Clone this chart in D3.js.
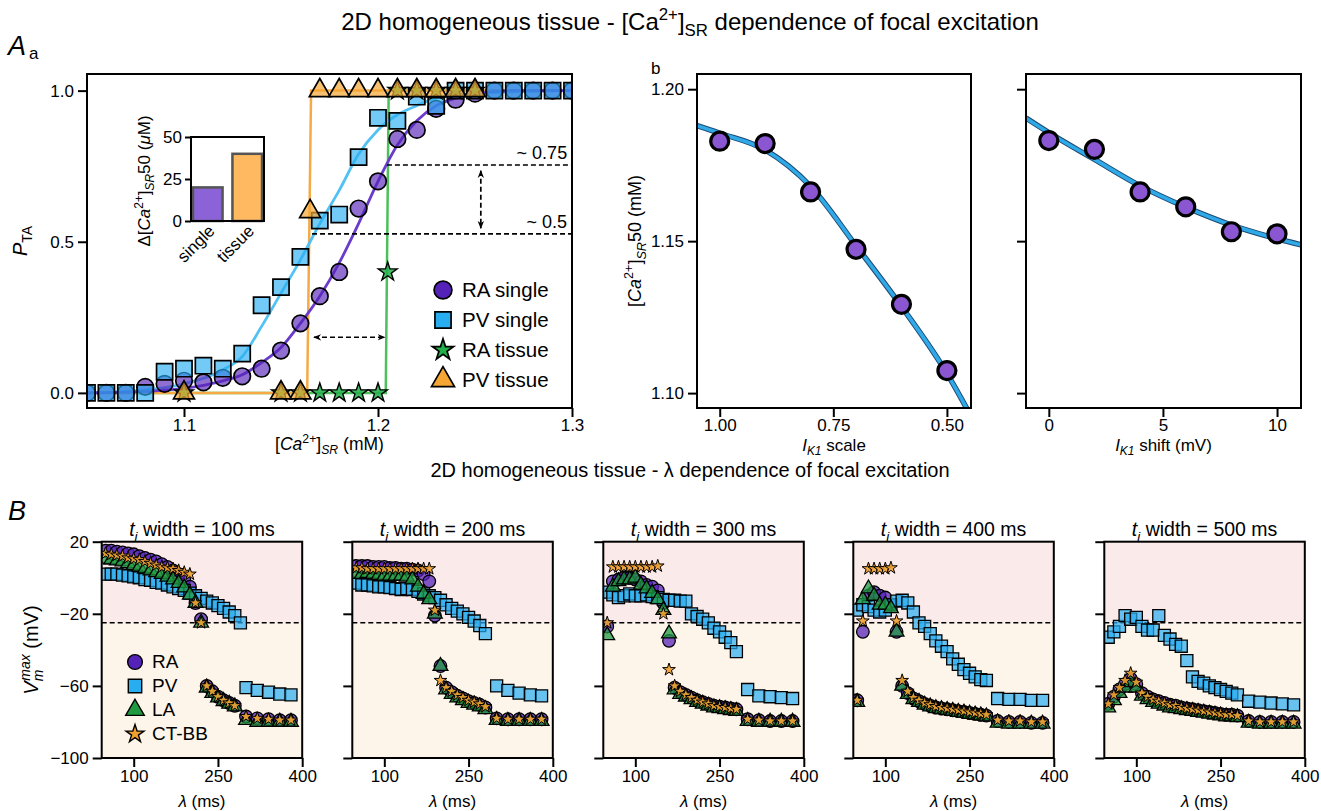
<!DOCTYPE html>
<html>
<head>
<meta charset="utf-8">
<script src="https://cdn.jsdelivr.net/npm/d3@7"></script>
<style>
  body { margin: 0; background: #fff; }
  svg { font-family: "Liberation Sans", Arial, sans-serif; }
  .axis path { display: none; }
  .axis line { stroke: #000; stroke-width: 2; }
  .axis text { font-size: 17px; fill: #000; font-family: "Liberation Sans", Arial, sans-serif; }
</style>
</head>
<body>
<div id="chart"></div>
<script>
// ---------- A a : probability of triggered activity vs [Ca2+]SR
const caSingle = [1.05, 1.06, 1.07, 1.08, 1.09, 1.10, 1.11, 1.12, 1.13, 1.14, 1.15, 1.16, 1.17,
  1.18, 1.19, 1.20, 1.21, 1.22, 1.23, 1.24, 1.25, 1.26, 1.27, 1.28, 1.29, 1.30];
const raSingle = [0, 0, 0, 0.02, 0.03, 0.04, 0.035, 0.05, 0.055, 0.08, 0.14, 0.23, 0.32,
  0.40, 0.61, 0.70, 0.84, 0.87, 0.94, 0.97, 0.99, 1, 1, 1, 1, 1];
const pvSingle = [0, 0, 0, 0, 0.07, 0.08, 0.09, 0.08, 0.13, 0.29, 0.35, 0.45, 0.57,
  0.59, 0.78, 0.91, 0.90, 0.98, 0.95, 1, 1, 1, 1, 1, 1, 1];
const raTissueX = [1.10, 1.15, 1.16, 1.17, 1.18, 1.19, 1.20, 1.205, 1.21, 1.22, 1.23, 1.24, 1.25];
const raTissue = [0, 0, 0, 0, 0, 0, 0, 0.4, 1, 1, 1, 1, 1];
const pvTissueX = [1.10, 1.15, 1.16, 1.165, 1.17, 1.18, 1.19, 1.20, 1.21, 1.22, 1.23, 1.24, 1.25];
const pvTissue = [0, 0, 0, 0.6, 1, 1, 1, 1, 1, 1, 1, 1, 1];
// fitted curves
const raFitX = [1.05, 1.08, 1.10, 1.12, 1.13, 1.14, 1.15, 1.16, 1.17, 1.18, 1.19, 1.20, 1.21, 1.22, 1.23, 1.24, 1.25, 1.27, 1.30];
const raFit = [0, 0.005, 0.015, 0.04, 0.06, 0.10, 0.15, 0.23, 0.32, 0.43, 0.56, 0.70, 0.82, 0.90, 0.95, 0.975, 0.99, 1, 1];
const pvFitX = [1.05, 1.08, 1.10, 1.12, 1.13, 1.14, 1.15, 1.16, 1.17, 1.18, 1.19, 1.20, 1.21, 1.22, 1.23, 1.25, 1.30];
const pvFit = [0, 0.01, 0.03, 0.076, 0.12, 0.22, 0.33, 0.44, 0.56, 0.67, 0.79, 0.87, 0.92, 0.95, 0.975, 0.99, 1];
const pvStepX = [1.05, 1.1635, 1.1655, 1.30];
const pvStep = [0, 0, 1, 1];
const raStepX = [1.05, 1.2040, 1.2055, 1.30];
const raStep = [0, 0, 1, 1];
const aaTicksX = [1.1, 1.2, 1.3];
const aaTicksY = [0, 0.5, 1];
// inset bars
const insetCats = ["single", "tissue"];
const insetVals = [20, 40];
const insetTicks = [0, 25, 50];

// ---------- A b : [Ca2+]SR50 vs IK1
const ik1Scale = [1.0, 0.9, 0.8, 0.7, 0.6, 0.5];
const ca50Scale = [1.1829, 1.1821, 1.1662, 1.1473, 1.1292, 1.1074];
const scaleFitX = [1.05, 1.0, 0.9, 0.8, 0.7, 0.6, 0.5, 0.44];
const scaleFit = [1.188, 1.1855, 1.1800, 1.1680, 1.1485, 1.1285, 1.1065, 1.0905];
const ik1Shift = [0, 2, 4, 6, 8, 10];
const ca50Shift = [1.1831, 1.1802, 1.1662, 1.1613, 1.1531, 1.1524];
const shiftFitX = [-1, 0, 2, 4, 6, 8, 10, 11.05];
const shiftFit = [1.1905, 1.1857, 1.1769, 1.1682, 1.1612, 1.1553, 1.1508, 1.1488];
const abTicksY = [1.10, 1.15, 1.20];
const scaleTicks = [1.0, 0.75, 0.5];
const shiftTicks = [0, 5, 10];

// ---------- B : Vm max vs lambda, one panel per ti width
const lam = [50, 60, 70, 80, 90, 100, 110, 120, 130, 140, 150, 160, 170, 180, 190, 200, 210,
  220, 230, 240, 250, 260, 270, 280, 290, 300, 320, 340, 360, 380];
const widths = [100, 200, 300, 400, 500];
const raB = [
  [15, 15, 14.5, 14, 13.5, 13, 12, 11, 10, 9, 7.5, 6, 4, 2, -1, -5, -14, -23, -60, -63, -66, -68, -69.5, -71, null, -77, -78, -78.5, -79, -79],
  [6.5, 6.5, 6.5, 6, 6, 6, 5.5, 5.5, 5, 5, 4.5, 4, 2, -2, -21, -49, -61, -63.5, -65.5, -67, -68.5, -69.5, -70.5, -72, null, -78, -78.5, -78.5, -78.5, -78.5],
  [-27, -2, -1, 0, 0, -1, -2, -4, -5, -7, -14, -35, -61, -63.5, -65, -66.5, -68, -69, -70, -71, -71.5, -72, -72.5, -73, null, -78.5, -79, -79.5, -79.5, -79.5],
  [-68, -30, -10, -8, -10, -11, -15, -30, -60, -64, -67, -68.5, -70, -71, -72, -72.5, -73, -73.5, -74, -74.5, -75, -75.5, -76, -76.5, null, -79.5, -80, -80, -80.5, -80.5],
  [-70, -66, -62, -59, -56, -59, -64, -66, -67.5, -68.5, -69.5, -70.5, -71, -72, -72.5, -73, -73.5, -74, -74.5, -75, -75.5, -76, -76, -76.5, null, -79.5, -80, -80, -80, -80]
];
const pvB = [
  [2, 2, 2, 1.5, 1, 0.5, 0, -1, -1.5, -2.5, -3, -4, -5, -6, -7, -8.5, -10, -11.5, -13, -14, -15.5, -17, -19, -21, -25, -61, -62.5, -63.5, -64.5, -65],
  [-3, -4, -4, -4.5, -5, -5, -5.5, -6, -6.5, -6, -6.5, -7.5, -9, -10, -11, -12.5, -15, -17, -18.5, -20, -22, -24, -26.5, -31, null, -60, -62.5, -64, -65, -65.5],
  [-8, -9.5, -11, -10, -9, -10, -10, -9.5, -10.5, -11, -12, -12.5, -12.5, -13, -13, -20, -21.5, -23, -25, -28, -30, -33, -36, -41, null, -62, -65.5, -66, -66.5, -67],
  [-18, -15, -16, -18, -19, -18, -15, -13, -12.5, -14, -19, -25, -27, -31, -35, -38, -41, -45, -48, -51, -53, -55, -56.5, -57, null, -67, -67.5, -67.5, -68, -68],
  [-33, -30, -27, -21, -23, -22, -27, -29, -29, -21, -32, -34, -37, -38, -46, -55, -57.5, -58.5, -60, -61, -62, -63, -64, -65, null, -68.5, -69, -69.5, -70, -70.5]
];
const laB = [
  [10.5, 10, 9.5, 9, 8, 7, 6, 5, 4, 3, 2, 0.5, -1, -3, -5.5, -9.5, -14, -25, -61, -64, -66.5, -68.5, -70, -71.5, null, -79, -80, -80, -80, -80],
  [2, 2, 2.5, 2, 1.5, 1, 1, 1, 1, 0.5, -1, -5, -9, -12, -20, -49, -62, -64.5, -66.5, -68, -69.5, -70.5, -71.5, -73, null, -79, -79.5, -79.5, -79.5, -79.5],
  [-32, -5, -2, -1, -1, 0, -4, -6, -8.5, -12, -18, -31, -62, -64.5, -66, -67.5, -69, -70, -71, -72, -72.5, -73, -73.5, -74, null, -79.5, -80, -80, -80, -80],
  [-69, -12, -6, -10, -15, -15, -17, -30, -60, -64.5, -67.5, -69, -70.5, -71.5, -72.5, -73, -73.5, -74, -74.5, -75, -75.5, -76, -76.5, -77, null, -80.5, -81, -81, -81, -81],
  [-72, -68, -64, -61, -58, -61, -65.5, -67.5, -69, -70, -71, -72, -72.5, -73, -73.5, -74, -74.5, -75, -75.5, -76, -76.5, -77, -77, -77.5, null, -80.5, -81, -81, -81, -81]
];
const ctB = [
  [13.5, 13, 12.5, 12, 11, 10.5, 10, 9, 8, 7, 6, 5.5, 5, 4, 3, 2, -14, -25, -60, -63, -66, -68, -69.5, -71, null, -77, -78, -78.5, -79, -79],
  [5.5, 5.5, 5, 5, 5, 5, 5, 5, 5, 5, 5, 5, 5, 5, -18, -57, -61, -63, -65, -66.5, -68, -69, -70, -71.5, null, -78, -78.5, -78.5, -78.5, -78.5],
  [-25, 6, 6, 6, 6, 6, 6, 6, 6, 6.5, -20, -51, -60, -63, -65, -66.5, -68, -69, -70, -71, -71.5, -72, -72.5, -73, null, -78.5, -79, -79.5, -79.5, -79.5],
  [-68, -24, 5, 5, 5, 5, 5.5, -24, -57, -63, -66.5, -68, -69.5, -70.5, -71.5, -72, -72.5, -73, -73.5, -74, -74.5, -75, -75.5, -76, null, -79, -79.5, -79.5, -80, -80],
  [-70, -65, -61, -57, -53, -58, -64, -66, -67.5, -68.5, -69.5, -70.5, -71, -72, -72.5, -73, -73.5, -74, -74.5, -75, -75.5, -76, -76, -76.5, null, -79.5, -80, -80, -80, -80]
];
const threshold = -25;
const bTicksY = [-100, -60, -20, 20];
const bTicksX = [100, 250, 400];

// colours
const cRA = "#5522b8", cPV = "#28adf1", cStar = "#22b04a", cTri = "#f5a633";
const cLA = "#1f9a40", cCT = "#f0a030";

const svg = d3.select("#chart").append("svg")
  .attr("width", 1321).attr("height", 811);

// text with italic / super / subscript pieces
function rich(t, parts, fs) {
  let cur = 0;
  parts.forEach(function(p) {
    const o = p[1] || {};
    const target = o.sup ? -0.42 * fs : o.sub ? 0.25 * fs : 0;
    const ts = t.append("tspan").text(p[0]).attr("dy", target - cur);
    if (o.dx) ts.attr("dx", o.dx);
    if (o.sup || o.sub) ts.attr("font-size", fs * 0.7);
    if (o.i) ts.attr("font-style", "italic");
    cur = target;
  });
  return t;
}
function label(x, y, fs, parts, rot) {
  const t = svg.append("text").attr("font-size", fs).attr("text-anchor", "middle");
  if (rot) t.attr("transform", "translate(" + x + "," + y + ") rotate(-90)");
  else t.attr("x", x).attr("y", y);
  return rich(t, parts, fs);
}
function sym(type, size) {
  return d3.symbol().type(type).size(size)();
}
function clip(id, x0, y0, w, h) {
  svg.append("clipPath").attr("id", id).append("rect")
    .attr("x", x0).attr("y", y0).attr("width", w).attr("height", h);
}
function markers(g, xs, ys, x, y, type, size, fill, op, sw) {
  g.append("g").selectAll("path")
    .data(xs.map(function(d, i) { return [d, ys[i]]; }).filter(function(d) { return d[1] != null; }))
    .enter().append("path")
    .attr("d", sym(type, size))
    .attr("transform", function(d) { return "translate(" + x(d[0]) + "," + y(d[1]) + ")"; })
    .attr("fill", fill).attr("fill-opacity", op)
    .attr("stroke", "#000").attr("stroke-width", sw);
}
function frame(x0, y0, w, h) {
  svg.append("rect").attr("x", x0).attr("y", y0).attr("width", w).attr("height", h)
    .attr("fill", "none").attr("stroke", "#000").attr("stroke-width", 2);
}

// defs for arrows
svg.append("defs").append("marker")
  .attr("id", "arr").attr("viewBox", "0 0 10 10").attr("refX", 9).attr("refY", 5)
  .attr("markerWidth", 8).attr("markerHeight", 8).attr("markerUnits", "userSpaceOnUse")
  .attr("orient", "auto-start-reverse")
  .append("path").attr("d", "M0,1 L10,5 L0,9 L3,5 z").attr("fill", "#000");

// ---------- titles and panel letters
label(690, 30, 24, [["2D homogeneous tissue - [Ca"], ["2+", {sup: true}], ["]"], ["SR", {sub: true}], [" dependence of focal excitation"]]);
label(690, 477, 20, [["2D homogeneous tissue - λ dependence of focal excitation"]]);
svg.append("text").attr("x", 8).attr("y", 55).attr("font-size", 27).attr("font-style", "italic").text("A");
svg.append("text").attr("x", 29).attr("y", 59).attr("font-size", 17).text("a");
svg.append("text").attr("x", 651).attr("y", 74).attr("font-size", 17).text("b");
svg.append("text").attr("x", 8).attr("y", 520).attr("font-size", 27).attr("font-style", "italic").text("B");

// ---------- panel A a
(function() {
  const L = 87, R = 572, T = 74, Bm = 408;
  const x = d3.scaleLinear().domain([1.05, 1.30]).range([L, R]);
  const y = d3.scaleLinear().domain([-0.05, 1.055]).range([Bm, T]);
  clip("clipAa", L, T, R - L, Bm - T);
  const g = svg.append("g").attr("clip-path", "url(#clipAa)");
  const line = d3.line().x(function(d) { return x(d[0]); }).y(function(d) { return y(d[1]); });
  const pts = function(xs, ys) { return xs.map(function(d, i) { return [d, ys[i]]; }); };

  g.append("path").attr("d", line.curve(d3.curveLinear)(pts(raStepX, raStep)))
    .attr("fill", "none").attr("stroke", "#4cc05a").attr("stroke-width", 2.5);
  g.append("path").attr("d", line.curve(d3.curveLinear)(pts(pvStepX, pvStep)))
    .attr("fill", "none").attr("stroke", "#f5aa45").attr("stroke-width", 2.5);
  g.append("path").attr("d", line.curve(d3.curveMonotoneX)(pts(pvFitX, pvFit)))
    .attr("fill", "none").attr("stroke", "#52c2f5").attr("stroke-width", 2.8);
  g.append("path").attr("d", line.curve(d3.curveMonotoneX)(pts(raFitX, raFit)))
    .attr("fill", "none").attr("stroke", "#6a3ccc").attr("stroke-width", 2.8);

  markers(g, caSingle, raSingle, x, y, d3.symbolCircle, 215, cRA, 0.65, 1.7);
  markers(g, caSingle, pvSingle, x, y, d3.symbolSquare, 260, cPV, 0.65, 1.7);
  markers(g, raTissueX, raTissue, x, y, d3.symbolStar, 110, cStar, 0.85, 1.4);
  markers(g, pvTissueX, pvTissue, x, y, d3.symbolTriangle, 190, cTri, 0.7, 1.7);

  // threshold annotations
  const dash = function(x1, y1, x2, y2) {
    return svg.append("line").attr("x1", x(x1)).attr("y1", y(y1)).attr("x2", x(x2)).attr("y2", y(y2))
      .attr("stroke", "#000").attr("stroke-width", 1.7).attr("stroke-dasharray", "5,3");
  };
  dash(1.2046, 0.754, 1.30, 0.754);
  dash(1.166, 0.526, 1.30, 0.526);
  dash(1.253, 0.735, 1.253, 0.545).attr("marker-start", "url(#arr)").attr("marker-end", "url(#arr)");
  dash(1.167, 0.184, 1.2035, 0.184).attr("marker-start", "url(#arr)").attr("marker-end", "url(#arr)");
  svg.append("text").attr("x", x(1.2975)).attr("y", y(0.754) - 6).attr("text-anchor", "end")
    .attr("font-size", 18).text("~ 0.75");
  svg.append("text").attr("x", x(1.2975)).attr("y", y(0.526) - 6).attr("text-anchor", "end")
    .attr("font-size", 18).text("~ 0.5");

  frame(L, T, R - L, Bm - T);
  svg.append("g").attr("class", "axis").attr("transform", "translate(" + L + ",0)")
    .call(d3.axisLeft(y).tickValues(aaTicksY).tickSize(9).tickPadding(4).tickFormat(d3.format(".1f")));
  svg.append("g").attr("class", "axis").attr("transform", "translate(0," + Bm + ")")
    .call(d3.axisBottom(x).tickValues(aaTicksX).tickSize(9).tickPadding(2).tickFormat(d3.format(".1f")));
  label(L + (R - L) / 2, 450, 17.5, [["["], ["Ca", {i: true}], ["2+", {sup: true}], ["]"], ["SR", {sub: true, i: true}], [" (mM)"]]);
  label(27, 241, 20, [["P", {i: true}], ["TA", {sub: true}]], true);

  // legend
  const leg = [["RA single", d3.symbolCircle, 250, cRA], ["PV single", d3.symbolSquare, 260, cPV],
    ["RA tissue", d3.symbolStar, 140, cStar], ["PV tissue", d3.symbolTriangle, 230, cTri]];
  leg.forEach(function(d, i) {
    const yy = 290 + i * 30;
    svg.append("path").attr("d", sym(d[1], d[2])).attr("transform", "translate(443," + yy + ")")
      .attr("fill", d[3]).attr("stroke", "#000").attr("stroke-width", 1.7);
    svg.append("text").attr("x", 462).attr("y", yy + 7).attr("font-size", 20.5).text(d[0]);
  });

  // inset bar chart
  const iL = 191, iR = 264, iT = 137, iB = 221;
  const xb = d3.scaleBand().domain(insetCats).range([iL, iR]).paddingInner(0.25).paddingOuter(0.05);
  const yb = d3.scaleLinear().domain([0, 50]).range([iB, iT]);
  svg.append("rect").attr("x", iL).attr("y", iT).attr("width", iR - iL).attr("height", iB - iT).attr("fill", "#fff");
  svg.append("g").selectAll("rect").data(insetCats).enter().append("rect")
    .attr("x", function(d) { return xb(d); })
    .attr("y", function(d, i) { return yb(insetVals[i]); })
    .attr("width", xb.bandwidth())
    .attr("height", function(d, i) { return yb(0) - yb(insetVals[i]); })
    .attr("fill", function(d, i) { return ["#8c62d8", "#ffb960"][i]; })
    .attr("stroke", "#555").attr("stroke-width", 2.5);
  frame(iL, iT, iR - iL, iB - iT);
  svg.append("g").attr("class", "axis").attr("transform", "translate(" + iL + ",0)")
    .call(d3.axisLeft(yb).tickValues(insetTicks).tickSize(6).tickPadding(3));
  insetCats.forEach(function(c) {
    svg.append("text").attr("text-anchor", "end").attr("font-size", 17)
      .attr("transform", "translate(" + (xb(c) + xb.bandwidth() / 2 + 8) + "," + (iB + 11) + ") rotate(-45)")
      .text(c);
  });
  label(150, 181, 17, [["Δ["], ["Ca", {i: true}], ["2+", {sup: true}], ["]"], ["SR", {sub: true, i: true}], ["50 ("], ["μ", {i: true}], ["M)"]], true);
})();

// ---------- panel A b
(function() {
  const T = 74, Bm = 408;
  const y = d3.scaleLinear().domain([1.0951, 1.205]).range([Bm, T]);
  const specs = [
    {L: 697, R: 971, dom: [1.05, 0.447], xs: ik1Scale, ys: ca50Scale, fx: scaleFitX, fy: scaleFit,
     ticks: scaleTicks, fmt: d3.format(".2f"), lab: " scale", yl: true},
    {L: 1026, R: 1301, dom: [-1.0, 11.05], xs: ik1Shift, ys: ca50Shift, fx: shiftFitX, fy: shiftFit,
     ticks: shiftTicks, fmt: d3.format("d"), lab: " shift (mV)", yl: false}
  ];
  specs.forEach(function(s, k) {
    const x = d3.scaleLinear().domain(s.dom).range([s.L, s.R]);
    clip("clipAb" + k, s.L, T, s.R - s.L, Bm - T);
    const g = svg.append("g").attr("clip-path", "url(#clipAb" + k + ")");
    const line = d3.line().curve(d3.curveMonotoneX)
      .x(function(d) { return x(d[0]); }).y(function(d) { return y(d[1]); });
    const pts = s.fx.map(function(d, i) { return [d, s.fy[i]]; });
    g.append("path").attr("d", line(pts)).attr("fill", "none").attr("stroke", "#1d4a72").attr("stroke-width", 5.5);
    g.append("path").attr("d", line(pts)).attr("fill", "none").attr("stroke", "#2fa9e8").attr("stroke-width", 3.6);
    g.append("g").selectAll("circle").data(s.xs).enter().append("circle")
      .attr("cx", function(d) { return x(d); })
      .attr("cy", function(d, i) { return y(s.ys[i]); })
      .attr("r", 9).attr("fill", "#8a56d2").attr("stroke", "#000").attr("stroke-width", 3.2);
    frame(s.L, T, s.R - s.L, Bm - T);
    svg.append("g").attr("class", "axis").attr("transform", "translate(" + s.L + ",0)")
      .call(d3.axisLeft(y).tickValues(abTicksY).tickSize(9).tickPadding(4)
        .tickFormat(s.yl ? d3.format(".2f") : ""));
    svg.append("g").attr("class", "axis").attr("transform", "translate(0," + Bm + ")")
      .call(d3.axisBottom(x).tickValues(s.ticks).tickSize(9).tickPadding(2).tickFormat(s.fmt));
    label((s.L + s.R) / 2, 451, 17, [["I", {i: true}], ["K1", {sub: true, i: true}], [s.lab]]);
  });
  label(641, 241, 18, [["["], ["Ca", {i: true}], ["2+", {sup: true}], ["]"], ["SR", {sub: true, i: true}], ["50 (mM)"]], true);
})();

// ---------- panel B
(function() {
  const lefts = [101.7, 352.3, 603.3, 853.3, 1104.3];
  const Wd = 200.5, T = 541.7, Bm = 758;
  const y = d3.scaleLinear().domain([-100, 20]).range([Bm, T]);
  lefts.forEach(function(L, k) {
    const x = d3.scaleLinear().domain([43, 400]).range([L, L + Wd]);
    svg.append("rect").attr("x", L).attr("y", y(20)).attr("width", Wd).attr("height", y(threshold) - y(20)).attr("fill", "#fbeaea");
    svg.append("rect").attr("x", L).attr("y", y(threshold)).attr("width", Wd).attr("height", y(-100) - y(threshold)).attr("fill", "#fdf5e9");
    svg.append("line").attr("x1", L).attr("x2", L + Wd).attr("y1", y(threshold)).attr("y2", y(threshold))
      .attr("stroke", "#000").attr("stroke-width", 1.6).attr("stroke-dasharray", "5,3");
    clip("clipB" + k, L, T, Wd, Bm - T);
    const g = svg.append("g").attr("clip-path", "url(#clipB" + k + ")");
    markers(g, lam, raB[k], x, y, d3.symbolCircle, 125, cRA, 0.75, 1.3);
    markers(g, lam, pvB[k], x, y, d3.symbolSquare, 145, cPV, 0.7, 1.3);
    markers(g, lam, laB[k], x, y, d3.symbolTriangle, 95, cLA, 0.75, 1.3);
    markers(g, lam, ctB[k], x, y, d3.symbolStar, 50, cCT, 0.9, 1.0);
    frame(L, T, Wd, Bm - T);
    svg.append("g").attr("class", "axis").attr("transform", "translate(" + L + ",0)")
      .call(d3.axisLeft(y).tickValues(bTicksY).tickSize(9).tickPadding(4).tickFormat(k === 0 ? d3.format("d") : ""));
    svg.append("g").attr("class", "axis").attr("transform", "translate(0," + Bm + ")")
      .call(d3.axisBottom(x).tickValues(bTicksX).tickSize(9).tickPadding(3).tickFormat(d3.format("d")));
    label(L + Wd / 2, 536, 19.5, [["t", {i: true}], ["i", {sub: true, i: true}], [" width = " + widths[k] + " ms"]]);
    label(L + Wd / 2, 807, 17, [["λ", {i: true}], [" (ms)"]]);
  });
  label(38, 650, 20, [["V", {i: true}], ["m", {sub: true, i: true}], ["max", {sup: true, i: true, dx: -11}], [" (mV)"]], true);

  const leg = [["RA", d3.symbolCircle, 170, cRA], ["PV", d3.symbolSquare, 180, cPV],
    ["LA", d3.symbolTriangle, 150, cLA], ["CT-BB", d3.symbolStar, 100, cCT]];
  leg.forEach(function(d, i) {
    const yy = 662 + i * 24;
    svg.append("path").attr("d", sym(d[1], d[2])).attr("transform", "translate(135," + yy + ")")
      .attr("fill", d[3]).attr("stroke", "#000").attr("stroke-width", 1.4);
    svg.append("text").attr("x", 152).attr("y", yy + 6).attr("font-size", 19).text(d[0]);
  });
})();
</script>
</body>
</html>
